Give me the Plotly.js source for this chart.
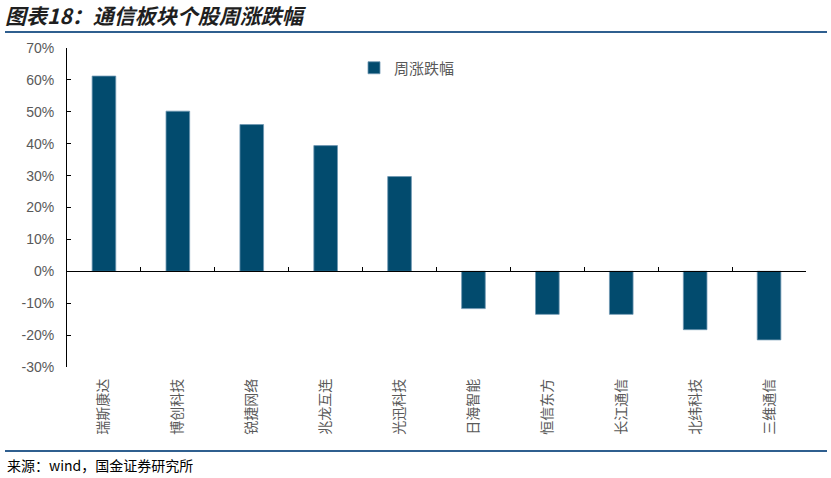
<!DOCTYPE html>
<html>
<head>
<meta charset="utf-8">
<script src="https://cdn.plot.ly/plotly-3.0.1.min.js"></script>
<style>html,body{margin:0;padding:0;background:#fff;}#chart{width:831px;height:478px;}</style>
</head>
<body>
<div id="chart"></div>
<script>
const categories = ["瑞斯康达","博创科技","锐捷网络","兆龙互连","光迅科技","日海智能","恒信东方","长江通信","北纬科技","三维通信"];
const weeklyChange = [61.2, 50.2, 46.0, 39.4, 29.7, -11.7, -13.5, -13.5, -18.3, -21.5];
const seriesName = "周涨跌幅";
const yTickValues = [-30,-20,-10,0,10,20,30,40,50,60,70];
const yTickLabels = yTickValues.map(v => v + "%");

const L = 67, R = 806, T = 48, B = 367;
const px = x => (x - L) / (R - L);
const py = y => (B - y) / (B - T);

const cjk = '"Noto Sans CJK SC", "Noto Sans", sans-serif';
const lineColor = '#2f5f8f';

const traces = [
  {
    type: 'bar',
    x: categories,
    y: weeklyChange,
    name: seriesName,
    marker: {color: '#024b6e', line: {color: '#6f97b3', width: 0.8}},
    hoverinfo: 'x+y'
  },
  {
    type: 'scatter',
    mode: 'markers',
    x: [-0.5, 9.5],
    y: [0, 0],
    xaxis: 'x2',
    yaxis: 'y',
    marker: {opacity: 0},
    showlegend: false,
    hoverinfo: 'skip'
  }
];

const layout = {
  width: 831,
  height: 478,
  margin: {l: L, r: 831 - R, t: T, b: 478 - B},
  paper_bgcolor: '#ffffff',
  plot_bgcolor: '#ffffff',
  bargap: 0.68,
  showlegend: true,
  legend: {
    x: px(354), y: py(68), xanchor: 'left', yanchor: 'middle',
    font: {family: cjk, size: 15, color: '#595959'},
    bgcolor: 'rgba(0,0,0,0)'
  },
  title: {
    text: '<b><i>图表18：通信板块个股周涨跌幅</i></b>',
    xref: 'container', yref: 'container',
    x: 5 / 831, xanchor: 'left',
    y: 1 - 17 / 478, yanchor: 'middle',
    font: {family: cjk, size: 21, color: '#1f1f1f'}
  },
  xaxis: {
    type: 'category',
    categoryarray: categories,
    range: [-0.5, 9.5],
    showline: false,
    ticks: '',
    tickangle: -90,
    tickfont: {family: cjk, size: 14, color: '#595959'},
    ticklabelstandoff: 8,
    showgrid: false,
    zeroline: false,
    fixedrange: true
  },
  xaxis2: {
    overlaying: 'x',
    anchor: 'free',
    position: py(271.3),
    range: [-0.5, 9.5],
    tick0: -0.5,
    dtick: 1,
    ticks: 'inside',
    ticklen: 4,
    tickcolor: '#000',
    showline: true,
    linecolor: '#000',
    linewidth: 1,
    showticklabels: false,
    showgrid: false,
    zeroline: false,
    fixedrange: true
  },
  yaxis: {
    range: [-30, 70],
    tickvals: yTickValues,
    ticktext: yTickLabels,
    ticks: 'inside',
    ticklen: 4,
    tickcolor: '#000',
    showline: true,
    linecolor: '#000',
    linewidth: 1,
    showgrid: false,
    zeroline: false,
    tickfont: {family: '"Liberation Sans", Arial, sans-serif', size: 14, color: '#595959'},
    ticklabelstandoff: 9,
    fixedrange: true
  },
  shapes: [
    {type: 'line', xref: 'paper', yref: 'paper', x0: px(5), x1: px(827), y0: py(32), y1: py(32), line: {color: lineColor, width: 2}},
    {type: 'line', xref: 'paper', yref: 'paper', x0: px(5), x1: px(827), y0: py(451), y1: py(451), line: {color: lineColor, width: 2}}
  ],
  annotations: [
    {
      text: '来源：wind，国金证券研究所',
      xref: 'paper', yref: 'paper',
      x: px(5), y: py(465), xanchor: 'left', yanchor: 'middle',
      showarrow: false,
      font: {family: '"Noto Sans CJK SC", "DejaVu Sans Mono", monospace', size: 14, color: '#000'}
    }
  ]
};

Plotly.newPlot('chart', traces, layout, {displayModeBar: false, staticPlot: true});
</script>
</body>
</html>
